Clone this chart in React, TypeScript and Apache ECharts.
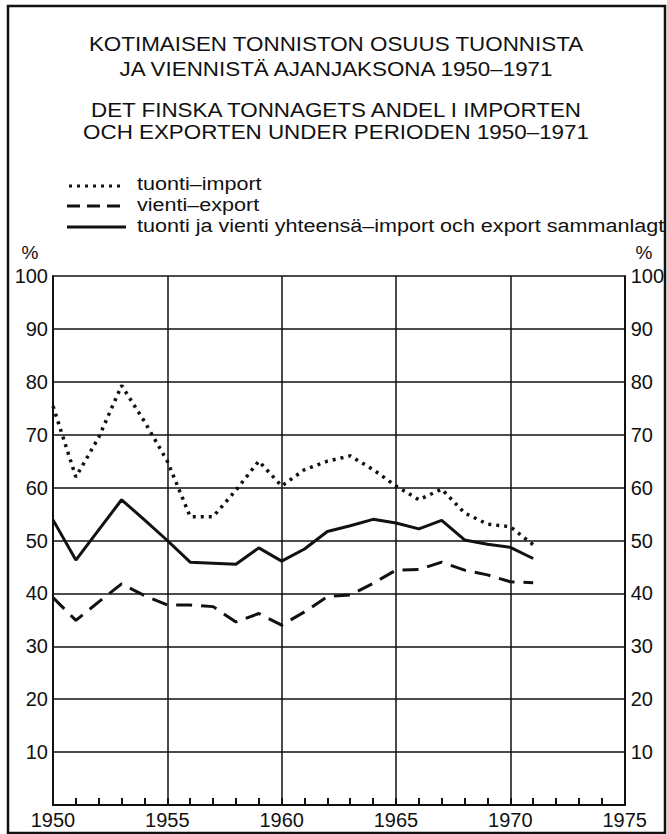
import React, { useEffect, useRef } from "react";
import * as echarts from "echarts";

const years = [1950, 1951, 1952, 1953, 1954, 1955, 1956, 1957, 1958, 1959, 1960, 1961, 1962, 1963, 1964, 1965, 1966, 1967, 1968, 1969, 1970, 1971];
const importShare = [75.4, 62.0, 69.5, 79.3, 72.5, 65.0, 54.5, 54.5, 59.5, 65.0, 60.3, 63.4, 65.0, 66.0, 63.4, 60.3, 57.7, 59.7, 55.2, 53.1, 52.6, 49.2];
const exportShare = [39.2, 34.9, 38.4, 41.8, 39.6, 37.8, 37.8, 37.5, 34.6, 36.2, 34.0, 36.5, 39.4, 39.7, 41.9, 44.4, 44.5, 45.9, 44.4, 43.5, 42.2, 42.0];
const totalShare = [53.9, 46.3, 52.0, 57.7, 53.9, 50.0, 45.9, 45.7, 45.5, 48.6, 46.1, 48.4, 51.7, 52.8, 54.0, 53.3, 52.2, 53.8, 50.1, 49.3, 48.7, 46.6];

const titleLines = [
  "KOTIMAISEN TONNISTON OSUUS TUONNISTA",
  "JA VIENNISTÄ AJANJAKSONA 1950–1971",
  "DET FINSKA TONNAGETS ANDEL I IMPORTEN",
  "OCH EXPORTEN UNDER PERIODEN 1950–1971",
];
const legendLabels = [
  "tuonti–import",
  "vienti–export",
  "tuonti ja vienti yhteensä–import och export sammanlagt",
];

const FONT = "'Liberation Sans', Arial, Helvetica, sans-serif";
const INK = "#111";

export default function App() {
  const ref = useRef<HTMLDivElement>(null);
  useEffect(() => {
    if (!ref.current) return;
    const chart = echarts.init(ref.current, null, { renderer: "svg" });
    const pair = (arr: number[]) => years.map((y, i) => [y, arr[i]]);
    const titleY = [44, 69, 110, 132];
    const legY = [184, 205, 226];
    const graphic: any[] = [
      {
        type: "rect",
        shape: { x: 8, y: 6, width: 657, height: 827 },
        style: { fill: "none", stroke: INK, lineWidth: 2.5 },
      },
      ...titleLines.map((t, i) => ({
        type: "text",
        x: 336,
        y: titleY[i],
        scaleX: 1.12,
        style: { text: t, font: `20px ${FONT}`, fill: INK, align: "center", verticalAlign: "middle" },
      })),
      ...legendLabels.map((t, i) => ({
        type: "text",
        x: 137,
        y: legY[i] - 1,
        scaleX: 1.135,
        style: { text: t, font: `19px ${FONT}`, fill: INK, align: "left", verticalAlign: "middle" },
      })),
      {
        type: "line",
        shape: { x1: 69, y1: 186, x2: 125, y2: 186 },
        style: { stroke: INK, lineWidth: 3, lineDash: [3, 5] },
      },
      {
        type: "line",
        shape: { x1: 67, y1: 206, x2: 126, y2: 206 },
        style: { stroke: INK, lineWidth: 3, lineDash: [13, 7] },
      },
      {
        type: "line",
        shape: { x1: 67, y1: 227, x2: 126, y2: 227 },
        style: { stroke: INK, lineWidth: 3 },
      },
      {
        type: "text",
        x: 30,
        y: 252,
        style: { text: "%", font: `19px ${FONT}`, fill: INK, align: "center", verticalAlign: "middle" },
      },
      {
        type: "text",
        x: 644,
        y: 252,
        style: { text: "%", font: `19px ${FONT}`, fill: INK, align: "center", verticalAlign: "middle" },
      },
    ];

    const yLabel = (v: number) => (v === 0 ? "" : String(v));
    const yCommon = {
      type: "value",
      min: 0,
      max: 100,
      interval: 10,
      axisLine: { show: true, lineStyle: { color: INK, width: 2 } },
      axisTick: { show: false },
      splitLine: { show: true, lineStyle: { color: INK, width: 1.5 } },
    };

    chart.setOption({
      animation: false,
      backgroundColor: "#fff",
      grid: { left: 53, right: 40, top: 276, bottom: 29, containLabel: false },
      xAxis: [
        {
          type: "value",
          min: 1950,
          max: 1975,
          interval: 5,
          axisLine: { show: true, onZero: false, lineStyle: { color: INK, width: 2 } },
          axisTick: { show: false },
          splitLine: { show: true, lineStyle: { color: INK, width: 1.5 } },
          axisLabel: { color: INK, fontSize: 20, fontFamily: FONT, margin: 5, formatter: (v: number) => String(v) },
        },
        {
          type: "value",
          position: "bottom",
          min: 1950,
          max: 1975,
          interval: 1,
          axisLine: { show: true, onZero: false, lineStyle: { color: INK, width: 2 } },
          axisTick: { show: true, inside: true, length: 7, lineStyle: { color: INK, width: 2 } },
          splitLine: { show: false },
          axisLabel: { show: false },
        },
      ],
      yAxis: [
        {
          ...yCommon,
          position: "left",
          axisLabel: { color: INK, fontSize: 20, fontFamily: FONT, margin: 5, formatter: yLabel },
        },
        {
          ...yCommon,
          position: "right",
          splitLine: { show: false },
          axisLabel: { color: INK, fontSize: 20, fontFamily: FONT, margin: 6, formatter: yLabel },
        },
      ],
      series: [
        {
          name: legendLabels[0],
          type: "line",
          data: pair(importShare),
          symbol: "none",
          lineStyle: { color: INK, width: 3.5, type: [3, 5], cap: "butt" },
        },
        {
          name: legendLabels[1],
          type: "line",
          data: pair(exportShare),
          symbol: "none",
          lineStyle: { color: INK, width: 3, type: [16, 9] },
        },
        {
          name: legendLabels[2],
          type: "line",
          data: pair(totalShare),
          symbol: "none",
          lineStyle: { color: INK, width: 3 },
        },
      ],
      graphic,
    });
    return () => chart.dispose();
  }, []);
  return (
    <div
      ref={ref}
      style={{ position: "fixed", left: 0, top: 0, width: 667, height: 834, background: "#fff" }}
    />
  );
}
